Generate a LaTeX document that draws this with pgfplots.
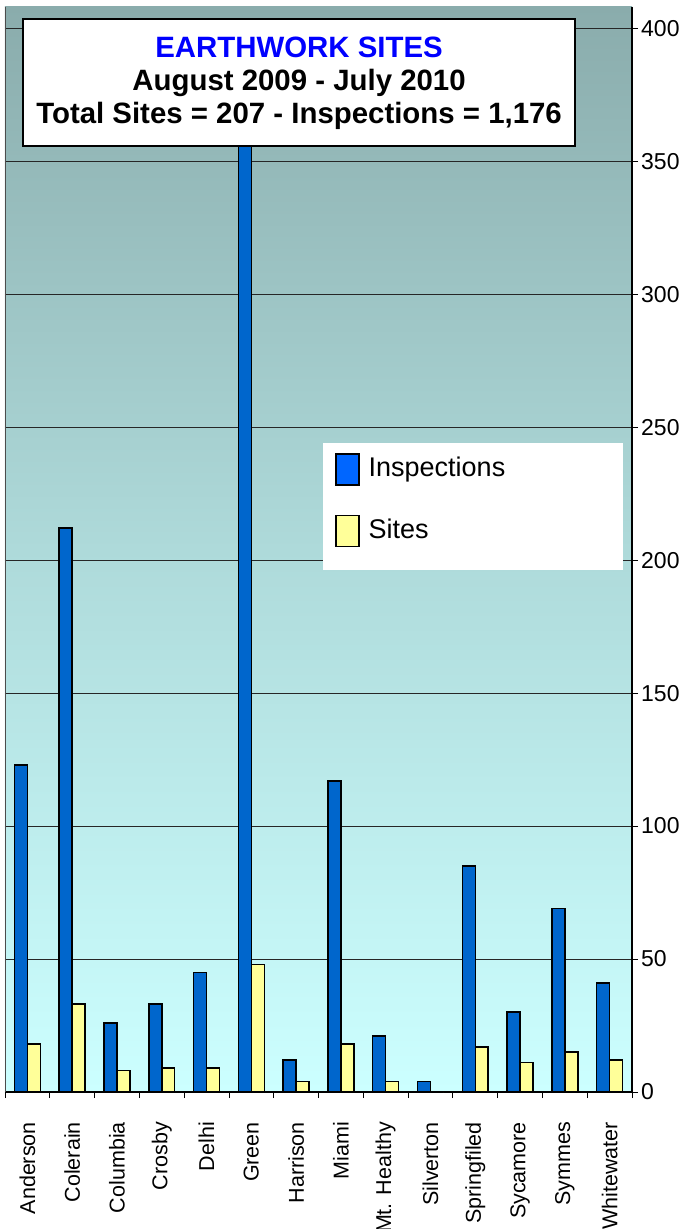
\documentclass[border=0pt]{standalone}
\usepackage{fontspec}
\setmainfont{Liberation Sans}
\usepackage{pgfplots}
\pgfplotsset{compat=1.18}

\definecolor{insp}{RGB}{0,102,204}
\definecolor{leginsp}{RGB}{0,102,255}
\definecolor{site}{RGB}{255,255,153}
\definecolor{bgtop}{RGB}{138,172,172}
\definecolor{bgmid}{RGB}{174,218,218}
\definecolor{bgbot}{RGB}{204,255,255}

\pgfplotsset{legbox/.style={legend image code/.code={\draw[##1] (0pt,-8pt) rectangle (23pt,23pt);}}}

\pgfplotstableread{
x insp sites
0 123 18
1 212 33
2 26 8
3 33 9
4 45 9
5 358 48
6 12 4
7 117 18
8 21 4
9 4 0
10 85 17
11 30 11
12 69 15
13 41 12
}\datatable

\begin{document}
\begin{tikzpicture}
\useasboundingbox (-5pt,-137pt) rectangle (685pt,1092pt);
\clip (-5pt,-137pt) rectangle (685pt,1092pt);
\begin{axis}[
  at={(0pt,0pt)}, anchor=south west,
  scale only axis, width=627pt, height=1085pt,
  xmin=-0.5, xmax=13.5, ymin=0, ymax=408,
  axis y line*=right, axis x line*=bottom,
  x axis line style={black, line width=2pt},
  y axis line style={black, line width=1.2pt},
  axis background/.style={shade, top color=bgtop, bottom color=bgbot, middle color=bgmid},
  ytick={0,50,...,400},
  ymajorgrids, grid style={black!85, line width=0.8pt},
  /pgf/number format/assume math mode=true,
  yticklabel style={font=\fontsize{23}{23}\selectfont, inner sep=0pt, xshift=3pt},
  tick align=outside,
  major tick length=6pt,
  tick style={black, line width=0.8pt},
  xtick={-0.5,0.5,...,13.5},
  xticklabels={},
  extra x ticks={0,1,...,13},
  extra x tick labels={Anderson,Colerain,Columbia,Crosby,Delhi,Green,Harrison,Miami,Mt. Healthy,Silverton,Springfiled,Sycamore,Symmes,Whitewater},
  extra x tick style={major tick length=0pt, grid=none,
    xticklabel style={yshift=-30pt, rotate=90, anchor=east, inner sep=0pt, font=\fontsize{21.5}{21.5}\selectfont}},
  legend style={at={(0.5263,0.589)}, anchor=north west, draw=none, fill=none,
    inner sep=0pt, row sep=29pt, column sep=9pt,
    nodes={inner sep=0pt, anchor=base west},
    font=\fontsize{27}{27}\selectfont},
  legend cell align=left,
]
\addplot[ybar, bar width=0.29, bar shift=-0.145, fill=insp, draw=black, line width=1.5pt, forget plot]
  table[x=x, y=insp]{\datatable};
\addplot[ybar, bar width=0.29, bar shift=0.145, fill=site, draw=black, line width=1.5pt, forget plot]
  table[x=x, y=sites]{\datatable};
\draw[black!70, line width=0.8pt] (rel axis cs:0,0) -- (rel axis cs:0,1);
\fill[white] (rel axis cs:0.5072,0.4811) rectangle (rel axis cs:0.9856,0.5982);
\node[draw=black, line width=2pt, fill=white, minimum width=552pt, minimum height=127pt,
  align=center, inner sep=0pt, font=\bfseries\fontsize{29.4}{33}\selectfont]
  at (rel axis cs:0.469,0.930)
  {\textcolor{blue}{EARTHWORK SITES}\\August 2009 - July 2010\\Total Sites = 207 - Inspections = 1,176};
\addlegendimage{legbox, fill=leginsp, draw=black, line width=1.5pt}
\addlegendentry{Inspections}
\addlegendimage{legbox, fill=site, draw=black, line width=1.5pt}
\addlegendentry{Sites}
\end{axis}
\end{tikzpicture}
\end{document}
